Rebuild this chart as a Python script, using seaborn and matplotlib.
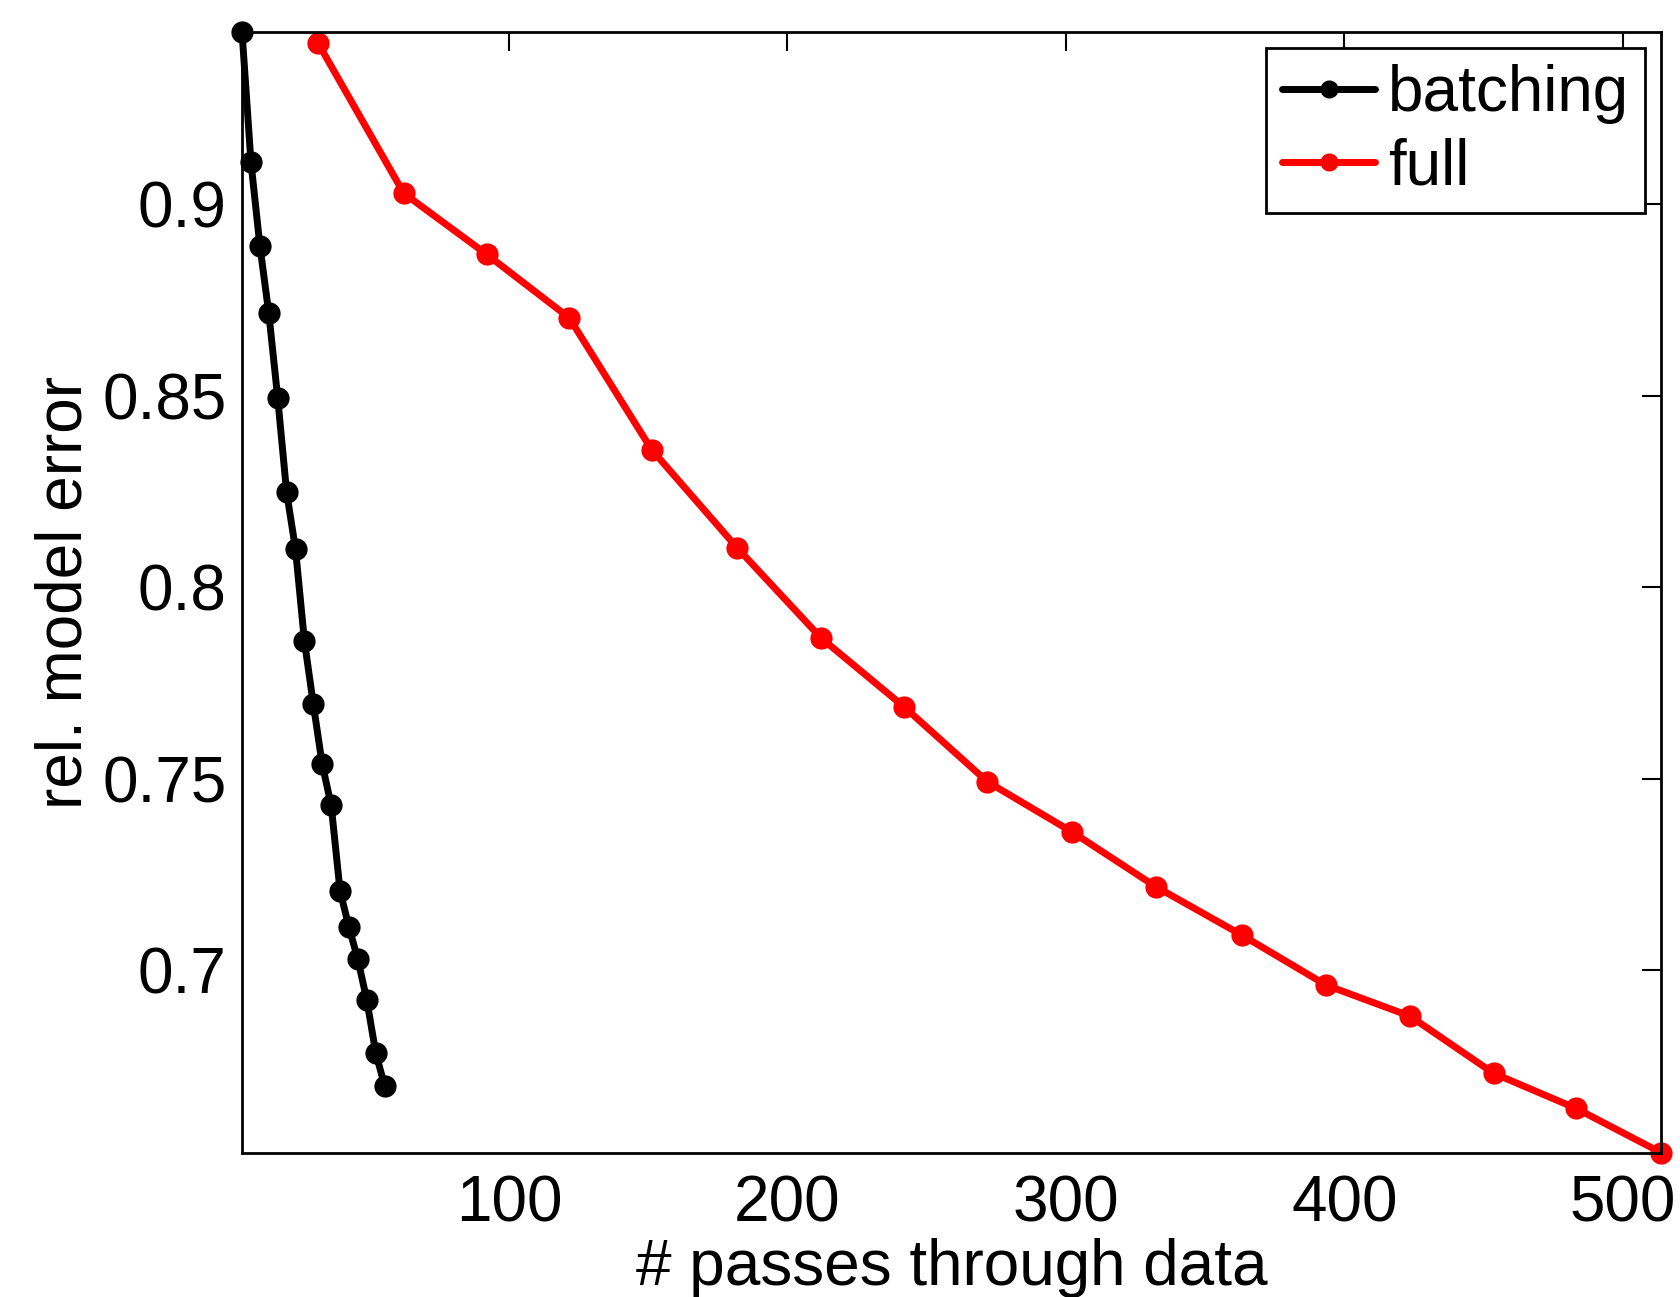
import matplotlib
matplotlib.use("Agg")
import matplotlib.pyplot as plt
import seaborn as sns
import pandas as pd

batch_x = [4.1, 7.3, 10.5, 13.7, 16.9, 20.1, 23.3, 26.5, 29.7, 32.9, 36.1, 39.3, 42.5, 45.7, 48.9, 52.1, 55.3]
batch_y = [0.9448, 0.9109, 0.8891, 0.8715, 0.8494, 0.8248, 0.8099, 0.7859, 0.7694,
           0.7537, 0.7431, 0.7207, 0.7112, 0.7028, 0.6922, 0.6785, 0.6698]
full_x = [31.4, 62.2, 91.9, 121.6, 151.2, 182.0, 212.1, 241.8, 271.8, 302.2, 332.3,
          363.1, 393.5, 423.6, 453.6, 483.3, 513.7]
full_y = [0.9420, 0.9028, 0.8869, 0.8703, 0.8359, 0.8102, 0.7867, 0.7688, 0.7492,
          0.7361, 0.7218, 0.7092, 0.6961, 0.6880, 0.6731, 0.6639, 0.6524]
series_names = ["batching", "full"]
x_ticks = [100, 200, 300, 400, 500]
y_ticks = [0.7, 0.75, 0.8, 0.85, 0.9]
y_tick_labels = ["0.7", "0.75", "0.8", "0.85", "0.9"]

df = pd.DataFrame({
    "x": batch_x + full_x,
    "y": batch_y + full_y,
    "method": [series_names[0]] * len(batch_x) + [series_names[1]] * len(full_x),
})

sns.set_theme(style="white")
plt.rcParams["font.family"] = ["Liberation Sans", "DejaVu Sans"]
plt.rcParams["text.color"] = "black"
plt.rcParams["axes.labelcolor"] = "black"

fig = plt.figure(figsize=(16.81, 12.97), dpi=100)
ax = fig.add_axes([0.144, 0.1114, 0.844, 0.8636])

sns.lineplot(data=df, x="x", y="y", hue="method", sort=False,
             palette={"batching": "black", "full": "red"},
             marker="o", markersize=16, markeredgewidth=0, linewidth=5,
             clip_on=False, ax=ax)

ax.set_xlim(min(batch_x), max(full_x))
ax.set_ylim(min(full_y), max(batch_y))
ax.set_xticks(x_ticks)
ax.set_xticklabels([str(t) for t in x_ticks])
ax.set_yticks(y_ticks)
ax.set_yticklabels(y_tick_labels)
ax.tick_params(direction="in", length=14, width=1.5, top=True, right=True,
               labelsize=46, colors="black")
ax.tick_params(axis="x", pad=16)
ax.tick_params(axis="y", pad=11)
for s in ax.spines.values():
    s.set_visible(True)
    s.set_color("black")
    s.set_linewidth(2)

ax.set_xlabel("# passes through data", fontsize=46, labelpad=2, color="black")
ax.set_ylabel("rel. model error", fontsize=46, labelpad=6, color="black")

leg = ax.legend(loc="upper right", fontsize=46, frameon=True, fancybox=False,
                edgecolor="black", borderpad=0.25, handlelength=1.45,
                handletextpad=0.2, labelspacing=0.2, borderaxespad=0.25)
leg.get_frame().set_linewidth(2)
leg.get_frame().set_alpha(1)
for h in leg.get_lines():
    h.set_markersize(13)
    h.set_linewidth(5)
for t in leg.get_texts():
    t.set_color("black")

fig.savefig("out.png", dpi=100)
